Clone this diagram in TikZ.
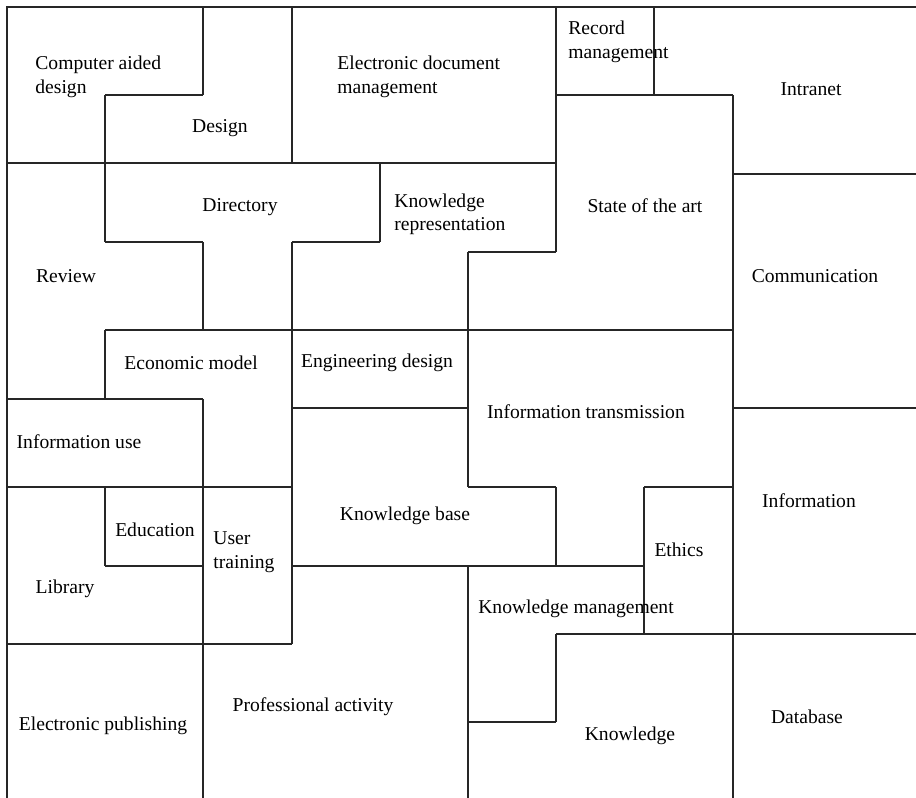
\documentclass[tikz,border=0pt]{standalone}
\usepackage{fontspec}
\setmainfont{Liberation Serif}

\begin{document}
\begin{tikzpicture}[
  x=0.5pt,
  y=-0.5pt,
  font=\fontsize{9.8}{11.7}\selectfont,
  wall/.style={line width=0.6pt, draw=black!85},
  term/.style={inner sep=0pt},
  stack/.style={inner sep=0pt, align=left, anchor=west}
]
\useasboundingbox (0,0) rectangle (916,798);

% Outer edge
\draw[wall] (916,7) -- (7,7) -- (7,798);

% Horizontal borders
\draw[wall] (105,95) -- (203,95);
\draw[wall] (556,95) -- (733,95);
\draw[wall] (7,163) -- (556,163);
\draw[wall] (733,174) -- (916,174);
\draw[wall] (105,242) -- (203,242);
\draw[wall] (292,242) -- (380,242);
\draw[wall] (468,252) -- (556,252);
\draw[wall] (105,330) -- (733,330);
\draw[wall] (7,399) -- (203,399);
\draw[wall] (292,408) -- (468,408);
\draw[wall] (733,408) -- (916,408);
\draw[wall] (7,487) -- (292,487);
\draw[wall] (468,487) -- (556,487);
\draw[wall] (644,487) -- (733,487);
\draw[wall] (105,566) -- (203,566);
\draw[wall] (292,566) -- (644,566);
\draw[wall] (556,634) -- (916,634);
\draw[wall] (7,644) -- (292,644);
\draw[wall] (468,722) -- (556,722);

% Vertical borders
\draw[wall] (105,95) -- (105,242);
\draw[wall] (105,330) -- (105,399);
\draw[wall] (105,487) -- (105,566);
\draw[wall] (203,7) -- (203,95);
\draw[wall] (203,242) -- (203,330);
\draw[wall] (203,399) -- (203,798);
\draw[wall] (292,7) -- (292,163);
\draw[wall] (292,242) -- (292,644);
\draw[wall] (380,163) -- (380,242);
\draw[wall] (468,252) -- (468,487);
\draw[wall] (468,566) -- (468,798);
\draw[wall] (556,7) -- (556,252);
\draw[wall] (556,487) -- (556,566);
\draw[wall] (556,634) -- (556,722);
\draw[wall] (654,7) -- (654,95);
\draw[wall] (644,487) -- (644,634);
\draw[wall] (733,95) -- (733,798);

% Region labels
\node[stack] (cad) at (35,77) {Computer aided\\design};
\node[term] (design) at (220,128) {Design};
\node[stack] (edm) at (337,77) {Electronic document\\management};
\node[stack] (record) at (568,42) {Record\\management};
\node[term] (intranet) at (811,89) {Intranet};
\node[term] (directory) at (240,207) {Directory};
\node[stack] (krep) at (394,214) {Knowledge\\representation};
\node[term] (stateart) at (645,206) {State of the art};
\node[term] (review) at (66,276) {Review};
\node[term] (comm) at (815,276) {Communication};
\node[term] (econ) at (191,363) {Economic model};
\node[term] (engdesign) at (377,363) {Engineering design};
\node[term] (infotrans) at (586,412) {Information transmission};
\node[term] (infouse) at (79,442) {Information use};
\node[term] (kbase) at (405,516) {Knowledge base};
\node[term] (info) at (809,501) {Information};
\node[term] (education) at (155,530) {Education};
\node[stack] (usertrain) at (213,552) {User\\training};
\node[term] (ethics) at (679,550) {Ethics};
\node[term] (library) at (65,589) {Library};
\node[term] (kmanage) at (576,609) {Knowledge management};
\node[term] (epub) at (103,726) {Electronic publishing};
\node[term] (profact) at (313,707) {Professional activity};
\node[term] (knowledge) at (630,736) {Knowledge};
\node[term] (database) at (807,717) {Database};

\end{tikzpicture}
\end{document}
